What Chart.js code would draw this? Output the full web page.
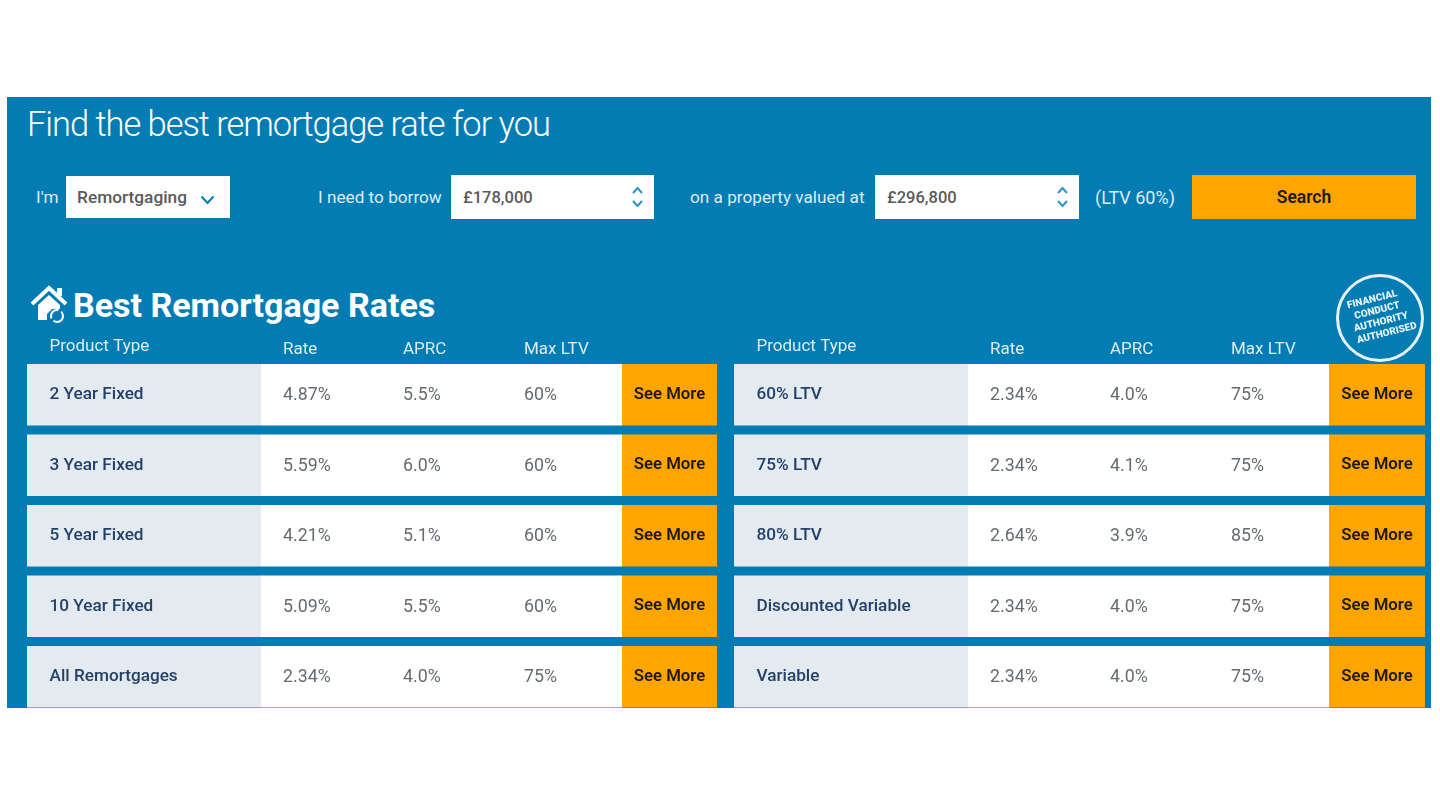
<!DOCTYPE html>
<html>
<head>
<meta charset="utf-8">
<title>Best Remortgage Rates</title>
<script src="https://cdn.jsdelivr.net/npm/chart.js@4/dist/chart.umd.min.js"></script>
<style>
  html, body { margin: 0; padding: 0; background: #fff; width: 1440px; height: 810px; overflow: hidden; font-family: Roboto, sans-serif; }
  #panel { position: absolute; left: 7px; top: 97px; width: 1424px; height: 611px; background: #037cb3; }
  .t { position: absolute; white-space: nowrap; line-height: 1; }
  .lbl { color: #dcedf6; font-size: 17.2px; font-weight: 400; transform: translateY(-50%); top: 198px; }
  .box { position: absolute; background: #fff; }
  .val { position: absolute; top: 50%; transform: translateY(-50%); color: #5a5a5a; font-size: 16.5px; font-weight: 500; white-space: nowrap; }
  canvas { position: absolute; top: 330px; }
</style>
</head>
<body>
<div id="panel"></div>

<div class="t" style="left:27px;top:107px;color:#fff;font-size:34.5px;font-weight:300;letter-spacing:-1.05px">Find the best remortgage rate for you</div>

<div class="t lbl" style="left:36px">I'm</div>
<div class="box" style="left:66px;top:176px;width:164px;height:42px">
  <span class="val" style="left:11px;font-size:17.3px">Remortgaging</span>
  <svg style="position:absolute;left:134px;top:19px" width="15" height="10"><path d="M1.5 1.5 L7.5 8 L13.5 1.5" fill="none" stroke="#037cb3" stroke-width="2"/></svg>
</div>

<div class="t lbl" style="left:318px">I need to borrow</div>
<div class="box" style="left:451px;top:175px;width:203px;height:44px">
  <span class="val" style="left:12px">£178,000</span>
  <svg style="position:absolute;left:180px;top:11px" width="13" height="22"><path d="M2 7 L6.5 2 L11 7 M2 15 L6.5 20 L11 15" fill="none" stroke="#2a96c8" stroke-width="2"/></svg>
</div>

<div class="t lbl" style="left:690px">on a property valued at</div>
<div class="box" style="left:875px;top:175px;width:204px;height:44px">
  <span class="val" style="left:12px">£296,800</span>
  <svg style="position:absolute;left:181px;top:11px" width="13" height="22"><path d="M2 7 L6.5 2 L11 7 M2 15 L6.5 20 L11 15" fill="none" stroke="#2a96c8" stroke-width="2"/></svg>
</div>

<div class="t lbl" style="left:1095px;font-size:18px">(LTV 60%)</div>
<div class="box" style="left:1192px;top:175px;width:224px;height:44px;background:#ffa500">
  <span class="val" style="left:50%;transform:translate(-50%,-50%);color:#1e1a14;font-weight:600;font-size:17.5px">Search</span>
</div>

<svg style="position:absolute;left:30px;top:285px" width="40" height="41" viewBox="0 0 40 41">
  <path d="M2 19 L19 3 L36 19" fill="none" stroke="#fff" stroke-width="4"/>
  <path d="M27 3 h5 v8 h-5 z" fill="#fff"/>
  <path d="M8 20 L19 10 L30 20 V24 H22 L17 29 V35 H8 Z" fill="#fff"/>
  <circle cx="27" cy="31" r="6" fill="none" stroke="#fff" stroke-width="2" stroke-dasharray="13 3"/>
</svg>
<div class="t" style="left:73px;top:288px;color:#fff;font-size:34px;font-weight:700">Best Remortgage Rates</div>

<canvas id="tablaIzq" width="691" height="383" style="left:27px"></canvas>
<canvas id="tablaDer" width="691" height="383" style="left:734px"></canvas>

<svg style="position:absolute;left:1335px;top:273px" width="90" height="90" viewBox="0 0 90 90">
  <circle cx="45" cy="45" r="42.5" fill="#037cb3" stroke="#e6f2f8" stroke-width="3"/>
  <g transform="rotate(-14 45 45)" fill="#e6f2f8" font-family="Roboto" font-weight="900" font-size="10" text-anchor="middle">
    <text x="42" y="28">FINANCIAL</text>
    <text x="44" y="40">CONDUCT</text>
    <text x="45" y="52">AUTHORITY</text>
    <text x="48" y="64">AUTHORISED</text>
  </g>
</svg>

<script>
// Datos de la tabla izquierda
var productosIzq = ['2 Year Fixed', '3 Year Fixed', '5 Year Fixed', '10 Year Fixed', 'All Remortgages'];
var tiposIzq = [4.87, 5.59, 4.21, 5.09, 2.34];
var aprcIzq = [5.5, 6.0, 5.1, 5.5, 4.0];
var ltvIzq = [60, 60, 60, 60, 75];

// Datos de la tabla derecha
var productosDer = ['60% LTV', '75% LTV', '80% LTV', 'Discounted Variable', 'Variable'];
var tiposDer = [2.34, 2.34, 2.64, 2.34, 2.34];
var aprcDer = [4.0, 4.1, 3.9, 4.0, 4.0];
var ltvDer = [75, 75, 85, 75, 75];

var cabeceras = ['Product Type', 'Rate', 'APRC', 'Max LTV'];
var textoBoton = 'See More';

var FUENTE = 'Roboto, sans-serif';
// Anchos de columna en unidades del eje x
var ANCHO_NOMBRE = 234, ANCHO_DATOS = 361;
var X_TIPO = 256, X_APRC = 376, X_LTV = 497, X_CABECERA = 22.5;

function crearTabla(id, productos, tipos, aprc, ltv, anchoBoton) {
    // Escribe cabeceras y valores usando las escalas del grafico
    var textos = {
        id: 'textos',
        afterDraw: function(chart) {
            var c = chart.ctx, x = chart.scales.x, y = chart.scales.y;
            c.save();
            c.textBaseline = 'middle';
            c.textAlign = 'left';

            c.fillStyle = '#dcedf6';
            c.font = '400 17px ' + FUENTE;
            c.fillText(cabeceras[0], x.getPixelForValue(X_CABECERA), chart.chartArea.top - 13);
            c.fillText(cabeceras[1], x.getPixelForValue(X_TIPO), chart.chartArea.top - 10);
            c.fillText(cabeceras[2], x.getPixelForValue(X_APRC), chart.chartArea.top - 10);
            c.fillText(cabeceras[3], x.getPixelForValue(X_LTV), chart.chartArea.top - 10);

            productos.forEach(function(p, i) {
                var py = y.getPixelForValue(i);
                c.fillStyle = '#666b70';
                c.font = '400 17.8px ' + FUENTE;
                c.textAlign = 'left';
                c.fillText(tipos[i].toFixed(2) + '%', x.getPixelForValue(X_TIPO), py + 1);
                c.fillText(aprc[i].toFixed(1) + '%', x.getPixelForValue(X_APRC), py + 1);
                c.fillText(ltv[i] + '%', x.getPixelForValue(X_LTV), py + 1);
                c.fillStyle = '#1e1a14';
                c.font = '600 16.8px ' + FUENTE;
                c.textAlign = 'center';
                c.fillText(textoBoton, x.getPixelForValue(ANCHO_NOMBRE + ANCHO_DATOS + anchoBoton / 2), py);
            });
            c.restore();
        }
    };

    return new Chart(document.getElementById(id).getContext('2d'), {
        type: 'bar',
        data: {
            labels: productos,
            datasets: [
                { data: productos.map(function() { return ANCHO_NOMBRE; }), backgroundColor: '#e4ebf0' },
                { data: productos.map(function() { return ANCHO_DATOS; }), backgroundColor: '#ffffff' },
                { data: productos.map(function() { return anchoBoton; }), backgroundColor: '#ffa500' }
            ]
        },
        options: {
            indexAxis: 'y',
            responsive: false,
            animation: false,
            layout: { padding: { top: 29.5, left: 0, right: 0, bottom: 1 } },
            datasets: { bar: { barPercentage: 1, categoryPercentage: 0.872 } },
            plugins: { legend: { display: false }, tooltip: { enabled: false } },
            scales: {
                x: { stacked: true, display: false, min: 0, max: 691 },
                y: {
                    stacked: true,
                    grid: { display: false },
                    border: { display: false },
                    afterFit: function(a) { a.width = 0; a.paddingTop = 0; a.paddingBottom = 0; },
                    ticks: {
                        mirror: true,
                        z: 1,
                        padding: 22.5,
                        color: '#24406a',
                        font: { family: FUENTE, size: 17.2, weight: '500' }
                    }
                }
            }
        },
        plugins: [textos]
    });
}

document.addEventListener('DOMContentLoaded', function() {
    crearTabla('tablaIzq', productosIzq, tiposIzq, aprcIzq, ltvIzq, 95);
    crearTabla('tablaDer', productosDer, tiposDer, aprcDer, ltvDer, 96);
});
</script>
</body>
</html>
